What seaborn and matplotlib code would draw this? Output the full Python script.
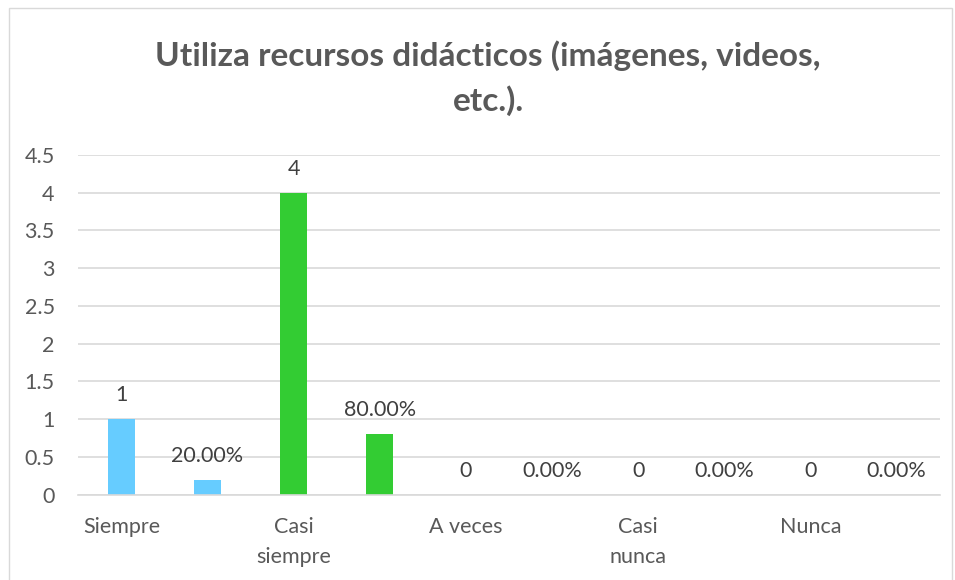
import pandas as pd
import matplotlib
matplotlib.use("Agg")
import matplotlib.pyplot as plt
import seaborn as sns
from matplotlib.patches import Rectangle

# --- DADES ---
categorias = ["Siempre", "Casi siempre", "A veces", "Casi nunca", "Nunca"]
etiquetas_eje = ["Siempre", "Casi\nsiempre", "A veces", "Casi\nnunca", "Nunca"]
frecuencias = [1, 4, 0, 0, 0]
porcentajes = [0.20, 0.80, 0.0, 0.0, 0.0]
colores_cat = ["#66CCFF", "#33CC33", "#A5A5A5", "#FFC000", "#4472C4"]

TITULO = "Utiliza recursos didácticos (imágenes, videos,\netc.)."
GRIS_TEXTO = "#595959"
GRIS_LINEA = "#D9D9D9"

# cada categoria ocupa dos posicions: freqüència i percentatge
files = []
for cat, f, p, c in zip(categorias, frecuencias, porcentajes, colores_cat):
    files.append({"slot": cat + "_n", "valor": f, "texto": f"{f}", "color": c})
    files.append({"slot": cat + "_p", "valor": p, "texto": f"{p * 100:.2f}%", "color": c})
df = pd.DataFrame(files)

sns.set_style("white")
plt.rcParams["font.family"] = ["Lato", "DejaVu Sans"]

fig = plt.figure(figsize=(9.55, 5.8), dpi=100)
ax = fig.add_axes([0.082, 0.147, 0.902, 0.586])

paleta = dict(zip(df["slot"], df["color"]))
sns.barplot(data=df, x="slot", y="valor", hue="slot", palette=paleta,
            order=list(df["slot"]), width=0.31, legend=False,
            saturation=1, linewidth=0, ax=ax)

for i, row in df.iterrows():
    ax.annotate(row["texto"], (i, row["valor"]), xytext=(0, 10),
                textcoords="offset points", ha="center", va="bottom",
                fontsize=15.5, color="#404040")

ax.set_ylim(0, 4.5)
ax.set_yticks([i * 0.5 for i in range(10)])
ax.set_yticklabels(["0", "0.5", "1", "1.5", "2", "2.5", "3", "3.5", "4", "4.5"])
ax.set_xlim(-0.5, len(df) - 0.5)
ax.set_xticks(range(0, len(df), 2))
ax.set_xticklabels(etiquetas_eje, va="top", ha="center", linespacing=1.6)
ax.tick_params(axis="both", length=0, labelsize=15.5, colors=GRIS_TEXTO)
ax.tick_params(axis="x", pad=16)
ax.tick_params(axis="y", pad=17)
ax.set_xlabel("")
ax.set_ylabel("")
ax.yaxis.grid(True, color=GRIS_LINEA, linewidth=1.2)
ax.set_axisbelow(True)
for s in ["top", "right", "left"]:
    ax.spines[s].set_visible(False)
ax.spines["bottom"].set_color(GRIS_LINEA)
ax.spines["bottom"].set_linewidth(1.2)

fig.text(0.511, 0.865, TITULO, ha="center", va="center", fontsize=24,
         fontweight="bold", color=GRIS_TEXTO, linespacing=1.55)

# vora del gràfic
fig.patches.append(Rectangle((0.009, -0.01), 0.988, 0.996, transform=fig.transFigure,
                             fill=False, edgecolor=GRIS_LINEA, linewidth=1))

fig.savefig("out.png", dpi=100)
